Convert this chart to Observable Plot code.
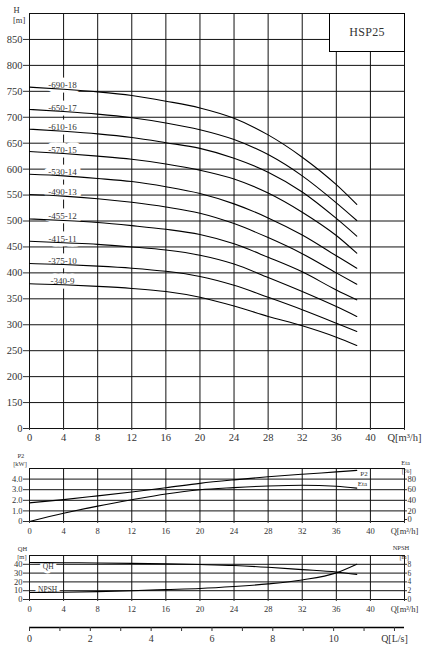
<!DOCTYPE html>
<html><head><meta charset="utf-8">
<script src="https://cdn.jsdelivr.net/npm/d3@7"></script>
<script src="https://cdn.jsdelivr.net/npm/@observablehq/plot@0.6"></script>
<style>
body{margin:0;background:#fff}
#wrap{position:relative;width:433px;height:661px;overflow:hidden}
#wrap svg{display:block}
#model{position:absolute;left:329px;top:13px;width:76px;height:39px;box-sizing:border-box;border:1px solid #000;background:#fff;
font:12px "Liberation Serif",serif;color:#333;display:flex;align-items:center;justify-content:center;letter-spacing:0.3px}
</style>
</head><body>
<div id="wrap"><div id="model">HSP25</div></div>
<script>
// ---- data ----
const Q = [0, 4, 8, 12, 16, 20, 24, 28, 32, 36, 38.4];           // flow m³/h
const modelNames = ["-690-18","-650-17","-610-16","-570-15","-530-14","-490-13","-455-12","-415-11","-375-10","-340-9"];
const H_690_18 = [758, 754, 749, 742, 731, 718, 698, 666, 623, 570, 532];
const H_650_17 = [715, 711, 706, 699, 689, 676, 657, 628, 587, 535, 501];
const H_610_16 = [677, 673, 668, 661, 651, 640, 621, 594, 556, 505, 471];
const H_570_15 = [634, 630, 625, 619, 610, 598, 581, 554, 517, 472, 438];
const H_530_14 = [590, 587, 582, 576, 566, 553, 533, 506, 473, 433, 409];
const H_490_13 = [551, 548, 543, 536, 527, 515, 495, 468, 437, 400, 378];
const H_455_12 = [504, 501, 497, 491, 484, 474, 456, 430, 402, 367, 348];
const H_415_11 = [461, 458, 455, 450, 444, 434, 417, 391, 364, 335, 316];
const H_375_10 = [418, 416, 413, 409, 403, 393, 376, 353, 329, 303, 287];
const H_340_9  = [379, 377, 374, 370, 364, 353, 336, 316, 298, 276, 260];
const P2_kW   = [1.76, 2.06, 2.42, 2.79, 3.18, 3.6, 3.93, 4.22, 4.46, 4.68, 4.82];
const Eta_pct = [0, 15.5, 29, 41, 52, 60, 64, 67, 68.5, 66.5, 63];
const QH_m    = [42, 41.8, 41.5, 41.1, 40.5, 39.7, 38.6, 36.6, 34, 31.3, 28.5];
const NPSH_m  = [1.6, 1.65, 1.8, 2.0, 2.25, 2.5, 2.95, 3.55, 4.45, 6.05, 8.0];

// ---- ticks / axis extents ----
const qTicks = [0, 4, 8, 12, 16, 20, 24, 28, 32, 36, 40];
const qEnd = 44;                                  // right frame, carries the unit label
const hTicks = [100,150,200,250,300,350,400,450,500,550,600,650,700,750,800,850]; // 100 shown as "0"
const hTop = 900;
const p2Ticks = [0, 1, 2, 3, 4];  const p2Top = 5;
const etaTop = 100;               // right axis maps onto p2 domain
const qhTicks = [0, 10, 20, 30, 40]; const qhTop = 50;
const npshTop = 10;
const lpsTicks = [0,1,2,3,4,5,6,7,8,9,10,11,12];
const lpsAxisMax = 12.33;

const FONT = "Liberation Serif";
const headSeries = [H_690_18,H_650_17,H_610_16,H_570_15,H_530_14,H_490_13,H_455_12,H_415_11,H_375_10,H_340_9];
const hRows = modelNames.flatMap((m,i)=>Q.map((q,j)=>({model:m,q,h:headSeries[i][j]})));
const labelRows = modelNames.map((m,i)=>({model:m,q:Q[1],h:headSeries[i][1]}));
const last = Q.length-1;
const grid = {stroke:"#111", strokeWidth:1};
const xAll = [...qTicks, qEnd];
const qFmt = d => d===qEnd ? "Q[m³/h]" : String(d);

const wrap = document.getElementById("wrap");
function add(svg){ wrap.insertBefore(svg, document.getElementById("model")); }

// ---- main H chart ----
add(Plot.plot({
  width:433, height:448, marginLeft:29, marginRight:29, marginTop:13, marginBottom:20,
  style:{fontFamily:FONT, fontSize:"10.5px", color:"#333", background:"#fff"},
  x:{domain:[0,qEnd]}, y:{domain:[100,hTop]},
  marks:[
    Plot.ruleX(xAll, grid),
    Plot.ruleY([...hTicks, hTop], grid),
    Plot.text(labelRows,{x:"q",y:"h",text:"model",dx:-1,dy:-1,lineAnchor:"bottom",fontSize:9,fill:"#fff",stroke:"#fff",strokeWidth:9}),
    Plot.line(hRows,{x:"q",y:"h",z:"model",curve:"monotone-x",stroke:"#000",strokeWidth:1.1}),
    Plot.text(labelRows,{x:"q",y:"h",text:"model",dx:-1,dy:-1,lineAnchor:"bottom",fontSize:9,fill:"#333"}),
    Plot.axisX({ticks:xAll, tickFormat:qFmt, tickSize:2, tickPadding:3, label:null}),
    Plot.axisY({ticks:hTicks, tickFormat:d=>d===100?"0":String(d), tickSize:6, tickPadding:1, label:null}),
    Plot.text(["H"],{text:d=>d, frameAnchor:"top-left", dx:-16, dy:-7, fontSize:8.5, fill:"#333"}),
    Plot.text(["[m]"],{text:d=>d, frameAnchor:"top-left", dx:-16.5, dy:3, fontSize:8.5, fill:"#333"})
  ]
}));

// ---- P2 / Eta chart ----
const pRows = Q.map((q,j)=>({q, p2:P2_kW[j], eta:Eta_pct[j]}));
const etaY = d => d.eta * p2Top / etaTop;
const etaFmt = d => String(Math.round(d*etaTop/p2Top));
add(Plot.plot({
  width:433, height:90, marginLeft:29, marginRight:29, marginTop:20, marginBottom:17,
  style:{fontFamily:FONT, fontSize:"8.5px", color:"#333", background:"#fff"},
  x:{domain:[0,qEnd]}, y:{domain:[0,p2Top]},
  marks:[
    Plot.ruleX(xAll, grid),
    Plot.ruleY([...p2Ticks, p2Top], grid),
    Plot.line(pRows,{x:"q",y:"p2",curve:"monotone-x",stroke:"#000",strokeWidth:1.1}),
    Plot.line(pRows,{x:"q",y:etaY,curve:"monotone-x",stroke:"#000",strokeWidth:1.1}),
    Plot.text([pRows[last]],{x:"q",y:"p2",text:()=>"P2",textAnchor:"start",dx:3.5,dy:3,fontSize:7,fill:"#333"}),
    Plot.text([pRows[last]],{x:"q",y:etaY,text:()=>"Eta",textAnchor:"start",dx:1,dy:-4.3,fontSize:7,fill:"#333"}),
    Plot.axisX({ticks:xAll, tickFormat:qFmt, tickSize:2, tickPadding:4, label:null}),
    Plot.axisY({ticks:p2Ticks, tickFormat:d=>d===0?"0":d.toFixed(1), tickSize:6, tickPadding:1, label:null}),
    Plot.axisY({anchor:"right", ticks:p2Ticks.filter(d=>d>0), tickFormat:etaFmt, tickSize:2, tickPadding:1, label:null}),
    Plot.axisY({anchor:"right", ticks:[0], tickFormat:etaFmt, tickSize:2, tickPadding:1, dy:-2, label:null}),
    Plot.text(["P2"],{text:d=>d, frameAnchor:"top-left", dx:-12, dy:-15, fontSize:6.5, fill:"#333"}),
    Plot.text(["[kW]"],{text:d=>d, frameAnchor:"top-left", dx:-16.3, dy:-7, fontSize:6.5, fill:"#333"}),
    Plot.text(["Eta"],{text:d=>d, frameAnchor:"top-right", dx:5.5, dy:-8.5, fontSize:6.5, fill:"#333"}),
    Plot.text(["[%]"],{text:d=>d, frameAnchor:"top-right", dx:7, dy:-0.5, fontSize:6.5, fill:"#333"})
  ]
}));

// ---- QH / NPSH chart ----
const nRows = Q.map((q,j)=>({q, qh:QH_m[j], npsh:NPSH_m[j]}));
const npshY = d => d.npsh * qhTop / npshTop;
const npshFmt = d => String(Math.round(d*npshTop/qhTop));
add(Plot.plot({
  width:433, height:79, marginLeft:29, marginRight:29, marginTop:17, marginBottom:18,
  style:{fontFamily:FONT, fontSize:"8.5px", color:"#333", background:"#fff"},
  x:{domain:[0,qEnd]}, y:{domain:[0,qhTop]},
  marks:[
    Plot.ruleX(xAll, grid),
    Plot.ruleY([...qhTicks, qhTop], grid),
    Plot.text([nRows[0]],{x:"q",y:"qh",text:()=>"QH",dx:18.7,dy:4,fontSize:7.5,fill:"#fff",stroke:"#fff",strokeWidth:6}),
    Plot.text([nRows[0]],{x:"q",y:npshY,text:()=>"NPSH",dx:18.2,dy:-3.3,fontSize:7.5,fill:"#fff",stroke:"#fff",strokeWidth:6}),
    Plot.line(nRows,{x:"q",y:"qh",curve:"monotone-x",stroke:"#000",strokeWidth:1.1}),
    Plot.line(nRows,{x:"q",y:npshY,curve:"monotone-x",stroke:"#000",strokeWidth:1.1}),
    Plot.text([nRows[0]],{x:"q",y:"qh",text:()=>"QH",dx:18.7,dy:4,fontSize:7.5,fill:"#333"}),
    Plot.text([nRows[0]],{x:"q",y:npshY,text:()=>"NPSH",dx:18.2,dy:-3.3,fontSize:7.5,fill:"#333"}),
    Plot.axisX({ticks:xAll, tickFormat:qFmt, tickSize:2, tickPadding:4, label:null}),
    Plot.axisY({ticks:qhTicks, tickFormat:d=>String(d), tickSize:6, tickPadding:1, label:null}),
    Plot.axisY({anchor:"right", ticks:qhTicks, tickFormat:npshFmt, tickSize:2, tickPadding:1, fontSize:7.5, label:null}),
    Plot.text(["QH"],{text:d=>d, frameAnchor:"top-left", dx:-11.7, dy:-9, fontSize:6.5, fill:"#333"}),
    Plot.text(["[m]"],{text:d=>d, frameAnchor:"top-left", dx:-12.3, dy:-1.5, fontSize:6.5, fill:"#333"}),
    Plot.text(["NPSH"],{text:d=>d, frameAnchor:"top-right", dx:4.8, dy:-10.5, fontSize:6.5, fill:"#333"}),
    Plot.text(["[m]"],{text:d=>d, frameAnchor:"top-right", dx:4.3, dy:-1.5, fontSize:6.5, fill:"#333"})
  ]
}));

// ---- L/s axis ----
add(Plot.plot({
  width:433, height:44, marginLeft:29, marginRight:29, marginTop:2, marginBottom:34,
  style:{fontFamily:FONT, fontSize:"10px", color:"#333", background:"#fff"},
  x:{domain:[0,lpsAxisMax]}, y:{domain:[0,1], axis:null},
  marks:[
    Plot.ruleY([0],{stroke:"#000", strokeWidth:1.4}),
    Plot.axisX({ticks:lpsTicks, tickFormat:d=>d===12?"Q[L/s]":(d%2===0?String(d):""), tickSize:4, tickPadding:3, label:null})
  ]
}));
</script>
</body></html>
